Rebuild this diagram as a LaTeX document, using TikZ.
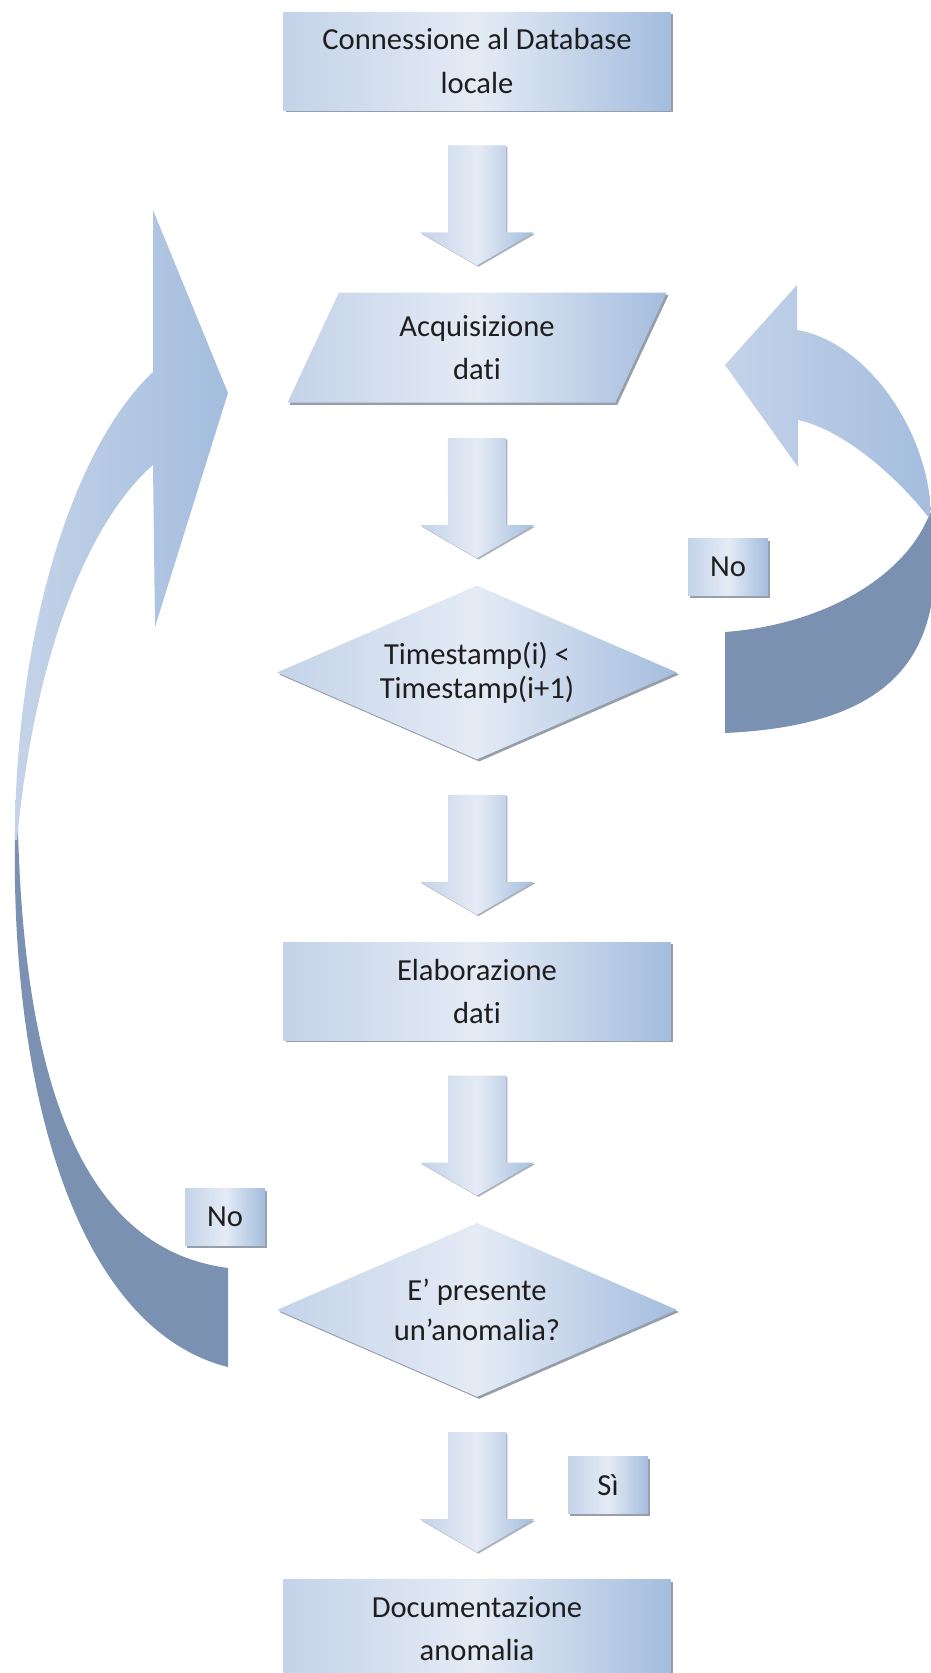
\documentclass[tikz,border=0pt]{standalone}
\usepackage{fontspec}
\setmainfont{Carlito}[Ligatures={TeX,NoCommon}]
\usetikzlibrary{shapes.geometric,positioning,calc,shadows}

\definecolor{paleblue}{RGB}{196,211,233}
\definecolor{glossblue}{RGB}{228,235,245}
\definecolor{deepblue}{RGB}{164,189,222}
\definecolor{ribbondark}{RGB}{122,145,178}
\definecolor{shadowgray}{RGB}{150,158,170}
\definecolor{inktext}{RGB}{30,30,30}

% fat down arrow between two flow nodes
\newcommand{\flowarrow}[2]{%
  \path[fatarrow] ($(#1.center |- #1.south)+(-29,35)$) -- ($(#2.north)+(-29,-60)$)
    -- ($(#2.north)+(-57,-60)$) -- ($(#2.north)+(0,-27)$) -- ($(#2.north)+(57,-60)$)
    -- ($(#2.north)+(29,-60)$) -- ($(#1.center |- #1.south)+(29,35)$) -- cycle;}

\begin{document}
\begin{tikzpicture}[
    x=0.2mm, y=-0.2mm,
    node distance=36.4mm,
    font=\fontsize{17.4}{24.5}\selectfont,
    text=inktext,
    glossy/.style={left color=paleblue, right color=deepblue, middle color=glossblue,
      drop shadow={shadow xshift=1.2pt, shadow yshift=-1.2pt, fill=shadowgray, opacity=1}},
    box/.style={glossy, rectangle, align=center, minimum width=77.4mm, minimum height=19.6mm},
    para/.style={glossy, trapezium, trapezium left angle=56, trapezium right angle=124,
      trapezium stretches body, align=center, minimum width=75.8mm, minimum height=22mm},
    decision/.style={glossy, diamond, aspect=2.3, inner sep=0pt, align=center,
      minimum width=80mm, minimum height=34.8mm},
    tag/.style={glossy, rectangle, minimum width=16mm, minimum height=11.4mm},
    fatarrow/.style={left color=paleblue, right color=deepblue, middle color=glossblue,
      drop shadow={shadow xshift=0.8pt, shadow yshift=-0.8pt, fill=shadowgray, opacity=0.8}},
    ribbon/.style={left color=paleblue, right color=deepblue},
    ribbonback/.style={fill=ribbondark}
]
\useasboundingbox (0,0) rectangle (931,1673);

% Main flow
\node[box] (conn) at (477,61) {Connessione al Database\\locale};
\node[para, below=of conn] (acq) {Acquisizione\\dati};
\node[decision, below=of acq, font=\fontsize{17.4}{19.5}\selectfont] (tscheck) {Timestamp(i) <\\Timestamp(i+1)};
\node[box, below=of tscheck] (elab) {Elaborazione\\dati};
\node[decision, below=of elab, font=\fontsize{17.4}{23}\selectfont] (anomaly) {E’ presente\\un’anomalia?};
\node[box, below=of anomaly] (doc) {Documentazione\\anomalia};

% Labels
\node[tag] (noloop) at (728,567) {No};
\node[tag] (noback) at (225,1217) {No};
\node[tag] (yes) at (608,1485) {Sì};

% Fat arrows
\flowarrow{conn}{acq}
\flowarrow{acq}{tscheck}
\flowarrow{tscheck}{elab}
\flowarrow{elab}{anomaly}
\flowarrow{anomaly}{doc}

% Loop back on the right (timestamp check)
\coordinate (looptail) at (725,632);
\coordinate (looptip) at (725,365);
\path[ribbonback] (931,512) .. controls (950,650) and (900,725) .. (725,733)
  -- (looptail) .. controls (820,625) and (900,580) .. (927,520) -- cycle;
\path[ribbon] (797,330) .. controls (860,340) and (925,420) .. (931,510)
  -- (929,518) .. controls (900,480) and (845,430) .. (798,420)
  -- (798,467) -- (looptip) -- (797,285) -- cycle;

% Loop back on the left (anomaly check)
\coordinate (backtail) at (228,1268);
\coordinate (backtip) at (228,393);
\path[ribbonback] (15,830) .. controls (10,1100) and (80,1330) .. (228,1367)
  -- (backtail) .. controls (90,1250) and (25,1100) .. (18,830) -- cycle;
\path[ribbon] (153,372) -- (153,210) -- (backtip) -- (155,627) -- (153,465)
  .. controls (90,520) and (35,650) .. (17,840)
  -- (15,840) .. controls (15,640) and (70,450) .. (153,372) -- cycle;
\end{tikzpicture}
\end{document}
